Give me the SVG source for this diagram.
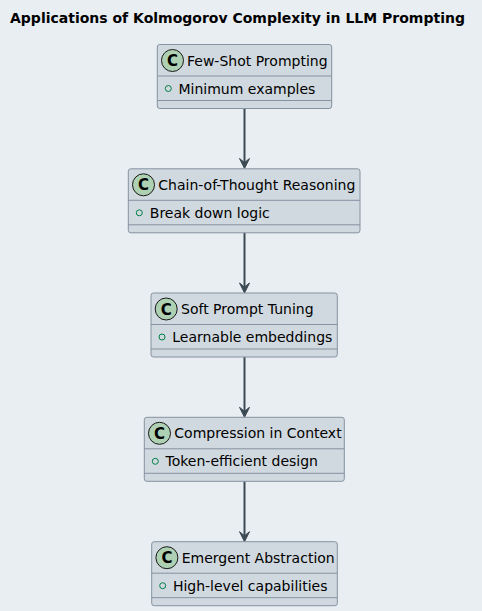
<svg xmlns="http://www.w3.org/2000/svg" width="482" height="611" viewBox="0 0 482 611">
<style>
.box{fill:#D0D9DF;stroke:#8592A0;stroke-width:1}
.sep{stroke:#8592A0;stroke-width:1}
.icon{fill:#ADD1B2;stroke:#181818;stroke-width:1}
.iconc{font-family:"DejaVu Sans",sans-serif;font-size:15px;font-weight:bold;fill:#000;text-anchor:middle}
.name{font-family:"DejaVu Sans",sans-serif;font-size:14px;fill:#000}
.attr{font-family:"DejaVu Sans",sans-serif;font-size:14px;fill:#000}
.vis{fill:none;stroke:#038048;stroke-width:1}
.title{font-family:"DejaVu Sans",sans-serif;font-size:14px;font-weight:bold;fill:#000}
.edge{stroke:#3C4A54;stroke-width:2;fill:none}
.head{fill:#3C4A54;stroke:#3C4A54;stroke-width:1}
</style>
<rect x="0" y="0" width="482" height="611" fill="#E9EEF2"/>
<text class="title" x="10" y="22.5">Applications of Kolmogorov Complexity in LLM Prompting</text>
<g id="connectors">
<line class="edge" x1="244.5" y1="108.5" x2="244.5" y2="166"/>
<polygon class="head" points="244.5,168.5 239.5,158.5 244.5,162.5 249.5,158.5"/>
<line class="edge" x1="244.5" y1="232.5" x2="244.5" y2="290.5"/>
<polygon class="head" points="244.5,293 239.5,283 244.5,287 249.5,283"/>
<line class="edge" x1="244.5" y1="357" x2="244.5" y2="414.8"/>
<polygon class="head" points="244.5,417.3 239.5,407.3 244.5,411.3 249.5,407.3"/>
<line class="edge" x1="244.5" y1="481.3" x2="244.5" y2="539.2"/>
<polygon class="head" points="244.5,541.7 239.5,531.7 244.5,535.7 249.5,531.7"/>
</g>
<g id="few-shot">
<rect class="box" x="157.3" y="44.5" width="174.4" height="64" rx="2.5"/>
<line class="sep" x1="157.3" y1="76" x2="331.7" y2="76"/>
<line class="sep" x1="157.3" y1="100.5" x2="331.7" y2="100.5"/>
<circle class="icon" cx="172.5" cy="60.5" r="11"/>
<text class="iconc" x="172.5" y="66">C</text>
<text class="name" x="187" y="65.5">Few-Shot Prompting</text>
<circle class="vis" cx="168.3" cy="88.5" r="3"/>
<text class="attr" x="178.5" y="93.5">Minimum examples</text>
</g>
<g id="cot">
<rect class="box" x="128.3" y="168.8" width="231.7" height="64" rx="2.5"/>
<line class="sep" x1="128.3" y1="200.3" x2="360" y2="200.3"/>
<line class="sep" x1="128.3" y1="224.8" x2="360" y2="224.8"/>
<circle class="icon" cx="143.5" cy="184.8" r="11"/>
<text class="iconc" x="143.5" y="190.3">C</text>
<text class="name" x="158.3" y="189.8">Chain-of-Thought Reasoning</text>
<circle class="vis" cx="139.3" cy="212.8" r="3"/>
<text class="attr" x="149.8" y="217.8">Break down logic</text>
</g>
<g id="soft-prompt">
<rect class="box" x="151" y="293" width="186.3" height="64" rx="2.5"/>
<line class="sep" x1="151" y1="324.5" x2="337.3" y2="324.5"/>
<line class="sep" x1="151" y1="349" x2="337.3" y2="349"/>
<circle class="icon" cx="166.2" cy="309" r="11"/>
<text class="iconc" x="166.2" y="314.5">C</text>
<text class="name" x="181" y="314">Soft Prompt Tuning</text>
<circle class="vis" cx="162" cy="337" r="3"/>
<text class="attr" x="172.3" y="342">Learnable embeddings</text>
</g>
<g id="compression">
<rect class="box" x="144.3" y="417.3" width="200" height="64" rx="2.5"/>
<line class="sep" x1="144.3" y1="448.8" x2="344.3" y2="448.8"/>
<line class="sep" x1="144.3" y1="473.3" x2="344.3" y2="473.3"/>
<circle class="icon" cx="159.5" cy="433.3" r="11"/>
<text class="iconc" x="159.5" y="438.8">C</text>
<text class="name" x="174.3" y="438.3">Compression in Context</text>
<circle class="vis" cx="155.3" cy="461.3" r="3"/>
<text class="attr" x="165.5" y="466.3">Token-efficient design</text>
</g>
<g id="emergent">
<rect class="box" x="151.7" y="541.7" width="185.6" height="64" rx="2.5"/>
<line class="sep" x1="151.7" y1="573.2" x2="337.3" y2="573.2"/>
<line class="sep" x1="151.7" y1="597.7" x2="337.3" y2="597.7"/>
<circle class="icon" cx="166.9" cy="557.7" r="11"/>
<text class="iconc" x="166.9" y="563.2">C</text>
<text class="name" x="181.7" y="562.7">Emergent Abstraction</text>
<circle class="vis" cx="162.7" cy="585.7" r="3"/>
<text class="attr" x="172.9" y="590.7">High-level capabilities</text>
</g>
</svg>
